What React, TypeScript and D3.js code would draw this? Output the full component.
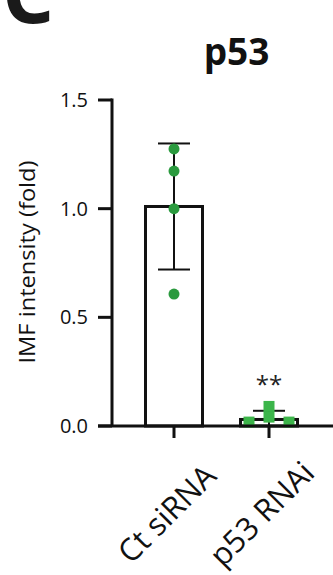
import React from "react";
import * as d3 from "d3";

const categories = ["Ct siRNA", "p53 RNAi"];
const means = [1.01, 0.03];
const sds = [0.29, 0.04];
const ctPoints = [1.275, 1.173, 1.0, 0.607];
const rnaiPoints = [0.018, 0.09, 0.041, 0.018];
const rnaiJitter = [-20, 0, 0, 20];
const yTicks = [0, 0.5, 1.0, 1.5];
const title = "p53";
const panelLetter = "C";
const yLabel = "IMF intensity (fold)";
const sigLabel = "**";

const W = 333;
const H = 575;
const FONT = "'Open Sans', 'Noto Sans', sans-serif";

export default function App() {
  const y = d3.scaleLinear().domain([0, 1.5]).range([426, 100]);
  const x = d3
    .scaleBand<string>()
    .domain(categories)
    .range([98, 345])
    .paddingInner(0.4)
    .paddingOuter(0.5);
  const bw = x.bandwidth();
  const cx = (c: string) => (x(c) as number) + bw / 2;
  const axisX = 112;
  const capW = 32;
  const black = "#111";
  const green1 = "#2a9a3e";
  const green2 = "#3cb54a";

  return (
    <svg
      width={W}
      height={H}
      style={{ position: "absolute", left: 0, top: 0, background: "#fff" }}
      fontFamily={FONT}
    >
      <rect x={0} y={0} width={W} height={H} fill="#fff" />
      <text x={2} y={23} fontSize={82} fontWeight={700} fill="#1a1a1a">
        {panelLetter}
      </text>
      <text x={236.5} y={65} fontSize={37} fontWeight={700} textAnchor="middle" fill="#111">
        {title}
      </text>

      {/* bars */}
      {categories.map((c, i) => (
        <rect
          key={c}
          x={x(c)}
          y={y(means[i])}
          width={bw}
          height={y(0) - y(means[i])}
          fill="none"
          stroke={black}
          strokeWidth={3}
        />
      ))}

      {/* error bars */}
      {categories.map((c, i) => {
        const top = y(means[i] + sds[i]);
        const bot = y(Math.max(0, means[i] - sds[i]));
        return (
          <g key={c} stroke={black} strokeWidth={2}>
            <line x1={cx(c)} x2={cx(c)} y1={top} y2={bot} />
            <line x1={cx(c) - capW / 2} x2={cx(c) + capW / 2} y1={top} y2={top} />
            {i === 0 && <line x1={cx(c) - capW / 2} x2={cx(c) + capW / 2} y1={bot} y2={bot} />}
          </g>
        );
      })}

      {/* points */}
      {ctPoints.map((v, j) => (
        <circle key={"c" + j} cx={cx(categories[0])} cy={y(v)} r={5.5} fill={green1} />
      ))}
      {rnaiPoints.map((v, j) => (
        <rect
          key={"s" + j}
          x={cx(categories[1]) + rnaiJitter[j] - 5.5}
          y={y(v) - 5.5}
          width={11}
          height={11}
          fill={green2}
        />
      ))}

      {/* significance */}
      <text x={cx(categories[1])} y={393} fontSize={24} textAnchor="middle" fill="#222">
        {sigLabel}
      </text>

      {/* y axis */}
      <line x1={axisX} x2={axisX} y1={y(1.5) - 1.5} y2={y(0)} stroke={black} strokeWidth={3} />
      {yTicks.map((t) => (
        <g key={t}>
          <line x1={98} x2={axisX} y1={y(t)} y2={y(t)} stroke={black} strokeWidth={3} />
          <text
            x={88}
            y={y(t)}
            dy="0.35em"
            fontSize={20}
            textAnchor="end"
            fill="#111"
          >
            {t.toFixed(1)}
          </text>
        </g>
      ))}
      <text
        transform={`translate(26,262) rotate(-90)`}
        fontSize={22}
        textAnchor="middle"
        dominantBaseline="central"
        textLength={203}
        lengthAdjust="spacingAndGlyphs"
        fill="#111"
      >
        {yLabel}
      </text>

      {/* x axis */}
      <line x1={98} x2={345} y1={y(0)} y2={y(0)} stroke={black} strokeWidth={3} />
      {categories.map((c) => (
        <g key={c}>
          <line x1={cx(c)} x2={cx(c)} y1={y(0)} y2={y(0) + 12} stroke={black} strokeWidth={3} />
          <text
            transform={`translate(${cx(c) - 8},${y(0) + 87}) rotate(-45)`}
            fontSize={31}
            textAnchor="middle"
            dominantBaseline="central"
            fill="#111"
          >
            {c}
          </text>
        </g>
      ))}
    </svg>
  );
}
